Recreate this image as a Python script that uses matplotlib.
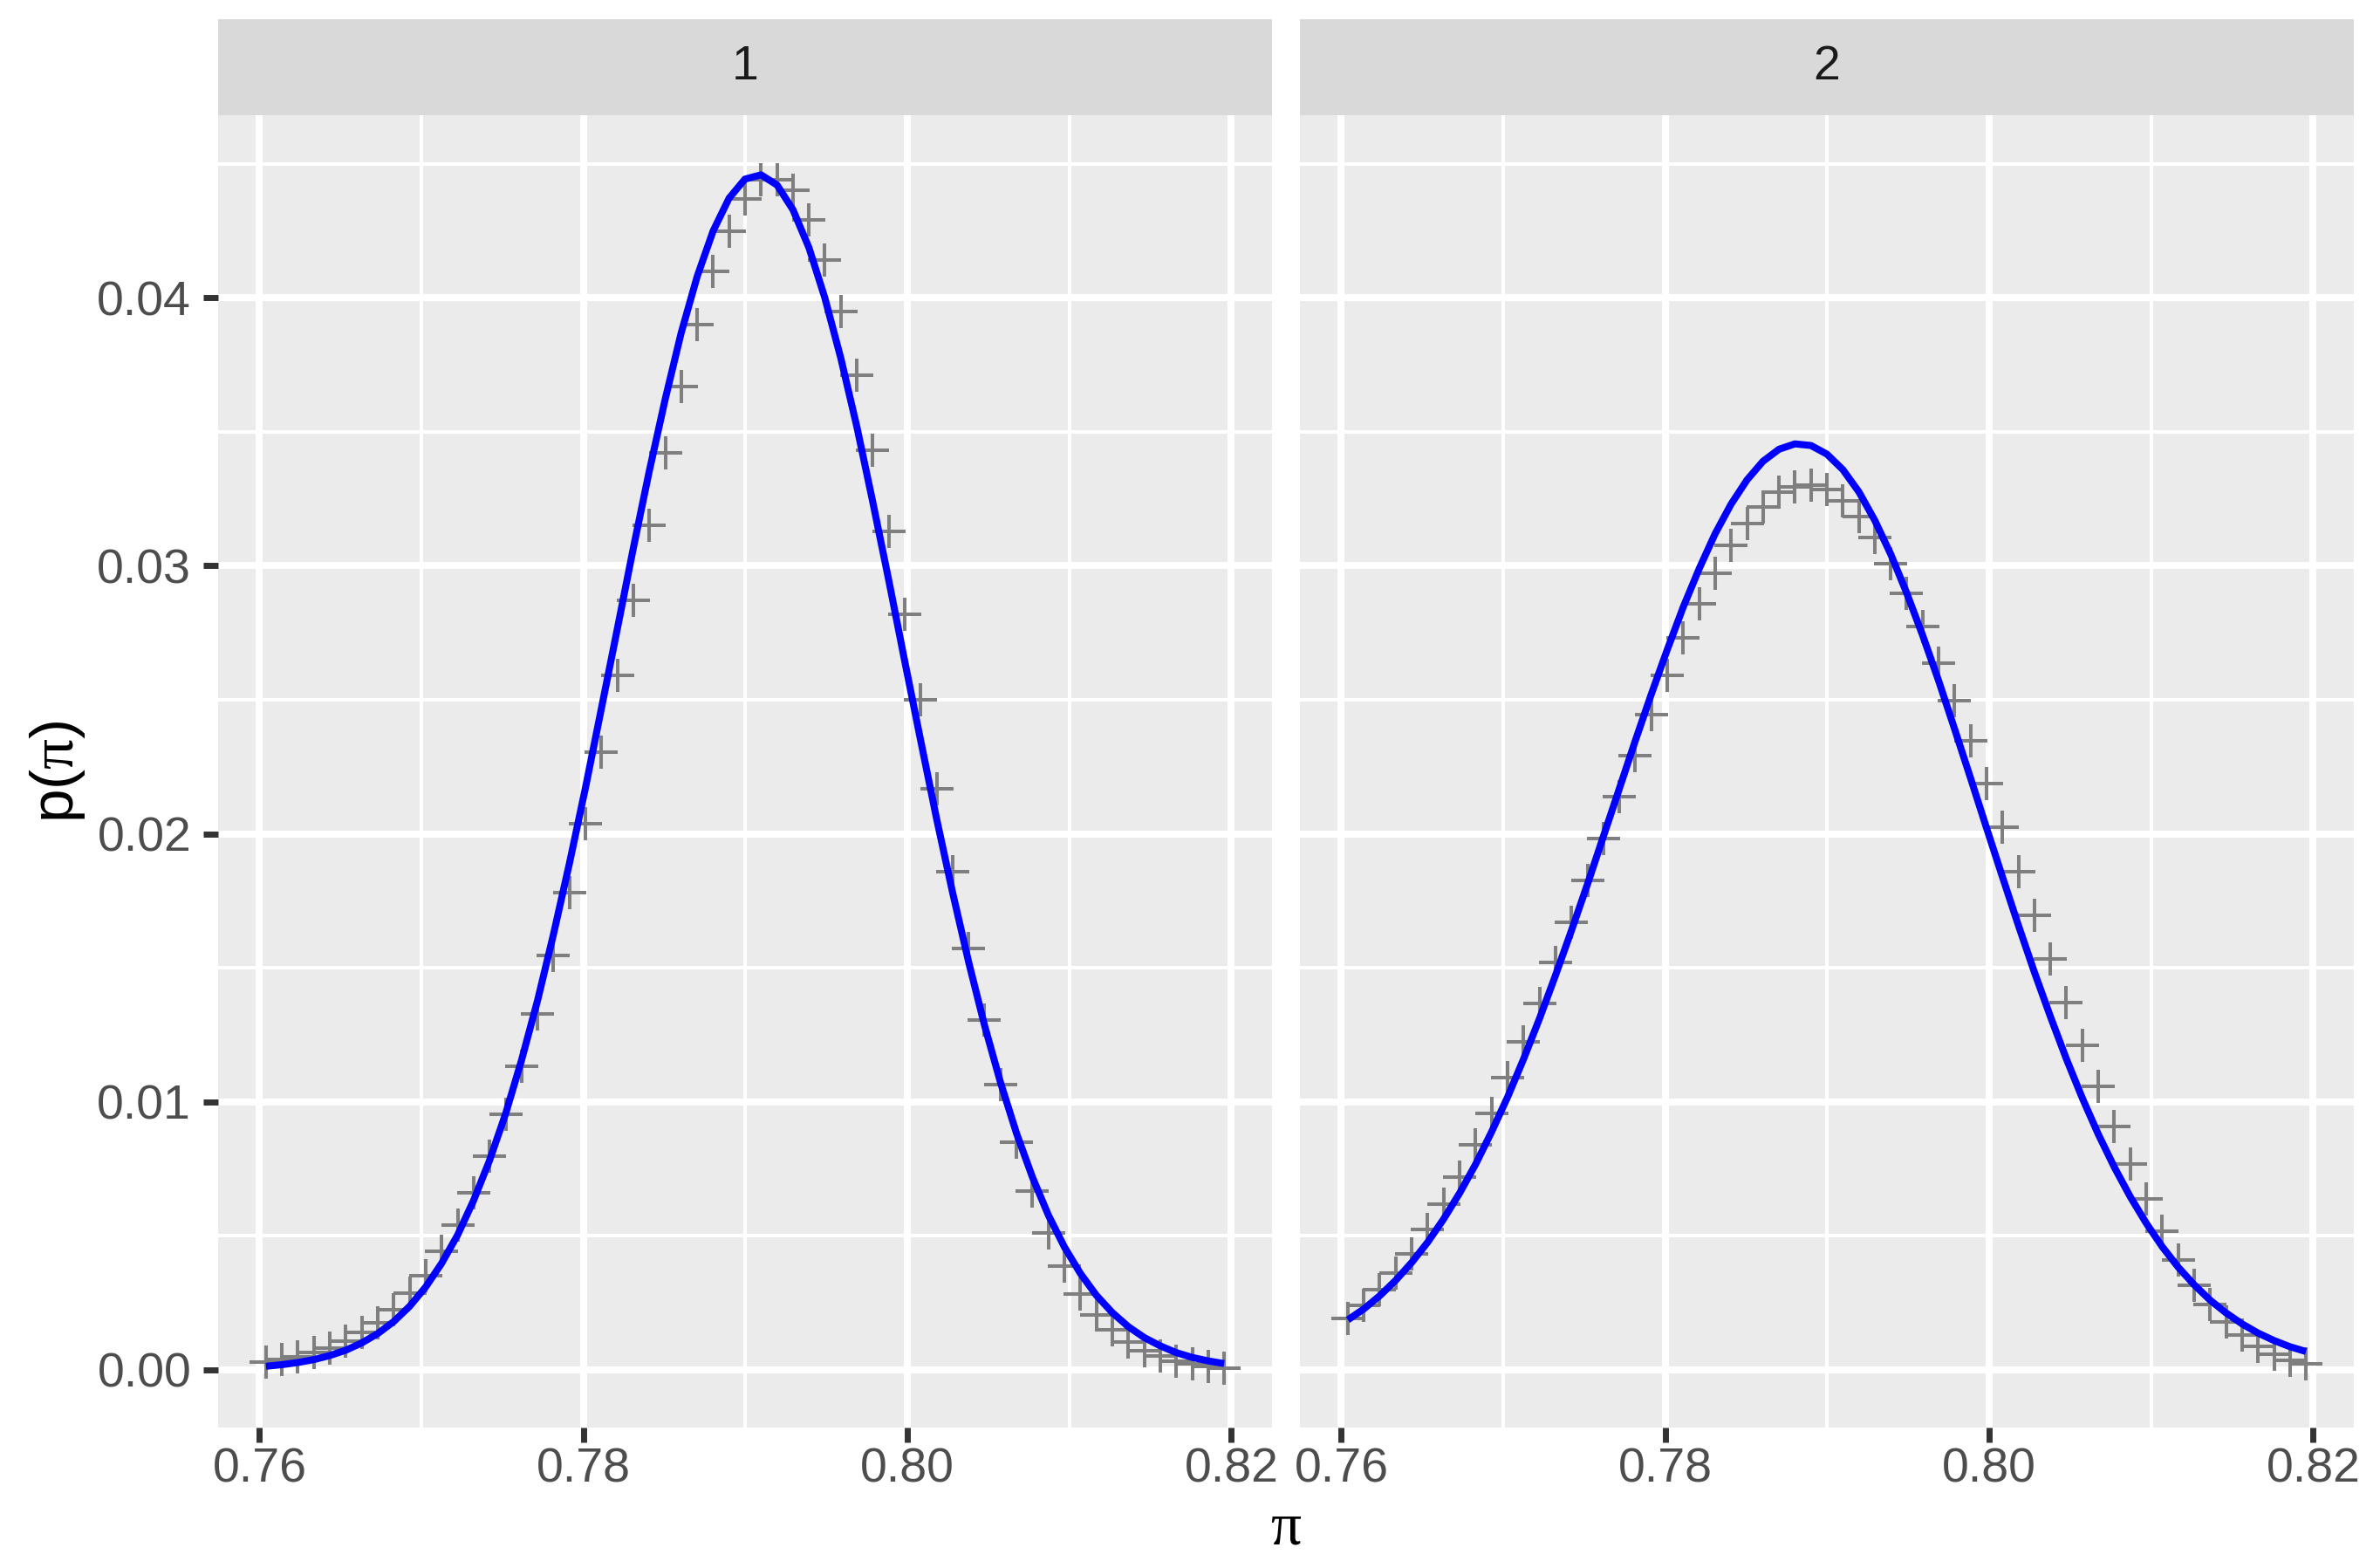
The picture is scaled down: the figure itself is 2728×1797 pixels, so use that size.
import matplotlib
matplotlib.use("Agg")
import matplotlib.pyplot as plt
import numpy as np
from matplotlib.ticker import FixedLocator, FormatStrFormatter

plt.rcParams["font.family"] = ["Liberation Sans", "DejaVu Sans"]
plt.rcParams["mathtext.fontset"] = "custom"
plt.rcParams["mathtext.rm"] = "Liberation Sans"
plt.rcParams["mathtext.it"] = "Liberation Serif"

# grid of pi values (shared by both panels)
pi_grid = [0.76040, 0.76139, 0.76237, 0.76336, 0.76434, 0.76533, 0.76631, 0.76730, 0.76829, 0.76927,
           0.77026, 0.77124, 0.77223, 0.77321, 0.77420, 0.77519, 0.77617, 0.77716, 0.77814, 0.77913,
           0.78012, 0.78110, 0.78209, 0.78307, 0.78406, 0.78505, 0.78603, 0.78702, 0.78800, 0.78899,
           0.78997, 0.79096, 0.79195, 0.79293, 0.79392, 0.79490, 0.79589, 0.79688, 0.79786, 0.79885,
           0.79983, 0.80082, 0.80180, 0.80279, 0.80378, 0.80476, 0.80575, 0.80673, 0.80772, 0.80870,
           0.80969, 0.81068, 0.81166, 0.81265, 0.81363, 0.81462, 0.81561, 0.81659, 0.81758, 0.81856,
           0.81955]

# panel 1: discrete posterior (grey crosses) and approximation (blue)
grey_1 = [0.00030, 0.00038, 0.00048, 0.00063, 0.00081, 0.00108, 0.00138, 0.00176, 0.00224, 0.00287,
          0.00350, 0.00442, 0.00540, 0.00659, 0.00796, 0.00952, 0.01131, 0.01327, 0.01547, 0.01782,
          0.02038, 0.02304, 0.02590, 0.02870, 0.03150, 0.03420, 0.03670, 0.03900, 0.04100, 0.04250,
          0.04370, 0.04440, 0.04440, 0.04400, 0.04290, 0.04140, 0.03950, 0.03710, 0.03430, 0.03130,
          0.02820, 0.02500, 0.02169, 0.01860, 0.01571, 0.01304, 0.01063, 0.00849, 0.00666, 0.00512,
          0.00387, 0.00284, 0.00204, 0.00150, 0.00105, 0.00071, 0.00050, 0.00033, 0.00022, 0.00013,
          0.00007]
blue_1 = [0.00013, 0.00019, 0.00027, 0.00038, 0.00053, 0.00073, 0.00100, 0.00135, 0.00180, 0.00237,
          0.00309, 0.00397, 0.00503, 0.00631, 0.00781, 0.00955, 0.01154, 0.01377, 0.01623, 0.01889,
          0.02171, 0.02466, 0.02765, 0.03064, 0.03353, 0.03623, 0.03869, 0.04080, 0.04249, 0.04372,
          0.04443, 0.04459, 0.04421, 0.04329, 0.04187, 0.04000, 0.03774, 0.03518, 0.03238, 0.02945,
          0.02645, 0.02347, 0.02056, 0.01780, 0.01521, 0.01285, 0.01071, 0.00883, 0.00718, 0.00577,
          0.00458, 0.00359, 0.00278, 0.00213, 0.00161, 0.00120, 0.00089, 0.00064, 0.00046, 0.00033,
          0.00023]

# panel 2
grey_2 = [0.00193, 0.00239, 0.00299, 0.00362, 0.00433, 0.00522, 0.00617, 0.00720, 0.00838, 0.00958,
          0.01091, 0.01223, 0.01368, 0.01519, 0.01671, 0.01826, 0.01982, 0.02138, 0.02293, 0.02445,
          0.02591, 0.02730, 0.02858, 0.02972, 0.03075, 0.03157, 0.03221, 0.03274, 0.03295, 0.03300,
          0.03284, 0.03241, 0.03183, 0.03105, 0.03007, 0.02896, 0.02773, 0.02637, 0.02496, 0.02347,
          0.02187, 0.02024, 0.01860, 0.01697, 0.01533, 0.01370, 0.01211, 0.01056, 0.00909, 0.00767,
          0.00636, 0.00516, 0.00410, 0.00316, 0.00242, 0.00180, 0.00131, 0.00087, 0.00057, 0.00035,
          0.00021]
blue_2 = [0.00186, 0.00227, 0.00276, 0.00334, 0.00400, 0.00476, 0.00562, 0.00659, 0.00767, 0.00887,
          0.01017, 0.01158, 0.01310, 0.01470, 0.01638, 0.01811, 0.01989, 0.02168, 0.02346, 0.02520,
          0.02687, 0.02845, 0.02989, 0.03119, 0.03230, 0.03321, 0.03390, 0.03435, 0.03455, 0.03449,
          0.03417, 0.03359, 0.03276, 0.03170, 0.03043, 0.02899, 0.02740, 0.02570, 0.02391, 0.02207,
          0.02022, 0.01838, 0.01658, 0.01483, 0.01317, 0.01160, 0.01013, 0.00879, 0.00756, 0.00646,
          0.00547, 0.00459, 0.00383, 0.00317, 0.00260, 0.00212, 0.00171, 0.00137, 0.00109, 0.00086,
          0.00068]

panel_labels = ["1", "2"]
x_ticks = [0.76, 0.78, 0.80, 0.82]
x_minor = [0.77, 0.79, 0.81]
y_ticks = [0.00, 0.01, 0.02, 0.03, 0.04]
y_minor = [0.005, 0.015, 0.025, 0.035, 0.045]

W, H = 2728, 1797
fig = plt.figure(figsize=(13.64, 8.985), dpi=200)

# ggplot-like 5% expansion on shared scales
def expand(lo, hi, f=0.05):
    d = hi - lo
    return lo - f * d, hi + f * d

xlim = expand(min(pi_grid), max(pi_grid))
all_y = grey_1 + blue_1 + grey_2 + blue_2
ylim = expand(min(all_y), max(all_y))

panel_px = [(250, 1458), (1490, 2698)]
top_px, bot_px, strip_top = 132, 1636, 22

series = [(grey_1, blue_1), (grey_2, blue_2)]
for k, ((x0, x1), (grey, blue)) in enumerate(zip(panel_px, series)):
    ax = fig.add_axes([x0 / W, 1 - bot_px / H, (x1 - x0) / W, (bot_px - top_px) / H])
    ax.set_facecolor("#EBEBEB")
    for s in ax.spines.values():
        s.set_visible(False)

    for v in x_minor:
        ax.axvline(v, color="white", lw=1.45, zorder=0)
    for v in y_minor:
        ax.axhline(v, color="white", lw=1.45, zorder=0)
    for v in x_ticks:
        ax.axvline(v, color="white", lw=2.9, zorder=0)
    for v in y_ticks:
        ax.axhline(v, color="white", lw=2.9, zorder=0)

    ax.plot(pi_grid, grey, ls="none", marker="+", ms=13.5, mew=1.45, color="#7F7F7F", zorder=3)
    ax.plot(pi_grid, blue, color="#0000FF", lw=2.9, zorder=4, solid_capstyle="butt")

    ax.set_xlim(*xlim)
    ax.set_ylim(*ylim)
    ax.xaxis.set_major_locator(FixedLocator(x_ticks))
    ax.xaxis.set_major_formatter(FormatStrFormatter("%.2f"))
    ax.yaxis.set_major_locator(FixedLocator(y_ticks))
    ax.yaxis.set_major_formatter(FormatStrFormatter("%.2f"))
    ax.tick_params(axis="both", length=6.1, width=2.5, color="#333333",
                   labelsize=20, labelcolor="#4D4D4D")
    ax.tick_params(axis="x", pad=2)
    ax.tick_params(axis="y", pad=5)
    if k == 1:
        ax.tick_params(axis="y", left=False, labelleft=False)

    # facet strip
    sax = fig.add_axes([x0 / W, 1 - top_px / H, (x1 - x0) / W, (top_px - strip_top) / H])
    sax.set_facecolor("#D9D9D9")
    sax.set_xticks([])
    sax.set_yticks([])
    for s in sax.spines.values():
        s.set_visible(False)
    sax.text(0.5, 0.5, panel_labels[k], ha="center", va="center", fontsize=20,
             color="#1A1A1A", transform=sax.transAxes)

fig.text(66 / W, 1 - 884 / H, r"$\mathrm{p(}\pi\mathrm{)}$", rotation=90,
         ha="center", va="center", fontsize=25, color="black")
fig.text(1474 / W, 1 - 1752 / H, r"$\pi$", ha="center", va="center",
         fontsize=25, color="black")

fig.savefig("out.png", dpi=200)
